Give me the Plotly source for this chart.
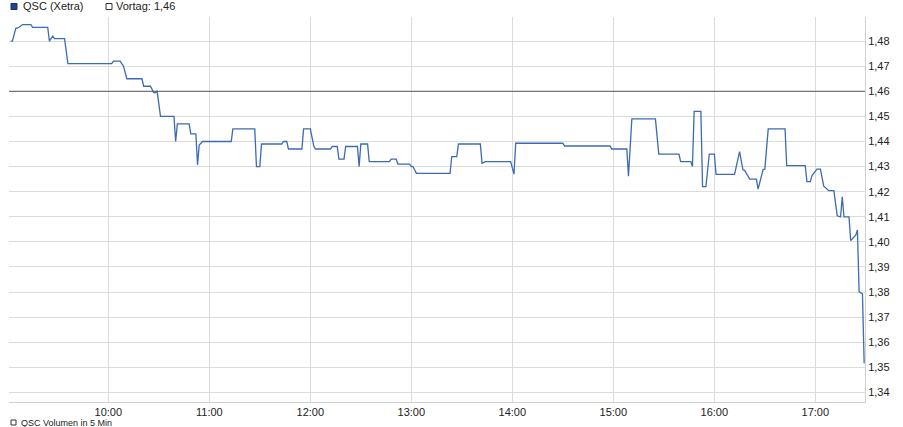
import plotly.graph_objects as go

DAY = "2012-01-02"

times = [
    "09:02", "09:03", "09:05", "09:07", "09:09", "09:14", "09:15", "09:24", "09:25", "09:27",
    "09:28", "09:34", "09:36", "10:02", "10:03", "10:07", "10:09", "10:11", "10:20", "10:21",
    "10:25", "10:27", "10:28", "10:29", "10:31", "10:39", "10:40", "10:41", "10:48", "10:49",
    "10:52", "10:53", "10:54", "10:56", "11:13", "11:14", "11:27", "11:28", "11:30", "11:31",
    "11:43", "11:44", "11:46", "11:47", "11:55", "11:56", "12:00", "12:02", "12:03", "12:12",
    "12:13", "12:16", "12:17", "12:20", "12:21", "12:28", "12:29", "12:30", "12:34", "12:35",
    "12:47", "12:48", "12:51", "12:52", "12:59", "13:00", "13:01", "13:03", "13:23", "13:24",
    "13:27", "13:28", "13:41", "13:42", "13:44", "13:59", "14:01", "14:02", "14:30", "14:31",
    "14:58", "14:59", "15:08", "15:09", "15:11", "15:25", "15:27", "15:39", "15:40", "15:46",
    "15:47", "15:48", "15:52", "15:53", "15:55", "15:57", "16:00", "16:01", "16:12", "16:13",
    "16:15", "16:17", "16:18", "16:21", "16:25", "16:26", "16:29", "16:30", "16:32", "16:42",
    "16:43", "16:54", "16:55", "16:57", "16:58", "17:01", "17:03", "17:05", "17:08", "17:11",
    "17:13", "17:15", "17:16", "17:17", "17:20", "17:21", "17:23", "17:24", "17:25", "17:26",
    "17:28", "17:29",
]

prices = [
    1.480, 1.480, 1.485, 1.4855, 1.4866, 1.4866, 1.4855, 1.4855, 1.480, 1.482,
    1.481, 1.481, 1.471, 1.471, 1.472, 1.472, 1.470, 1.465, 1.465, 1.462,
    1.462, 1.4595, 1.4595, 1.460, 1.450, 1.450, 1.440, 1.447, 1.447, 1.443,
    1.443, 1.4307, 1.4386, 1.440, 1.440, 1.445, 1.445, 1.430, 1.430, 1.439,
    1.439, 1.440, 1.440, 1.437, 1.437, 1.445, 1.445, 1.4383, 1.437, 1.437,
    1.438, 1.438, 1.433, 1.433, 1.438, 1.438, 1.430, 1.439, 1.439, 1.432,
    1.432, 1.433, 1.433, 1.431, 1.431, 1.430, 1.430, 1.4273, 1.4273, 1.434,
    1.434, 1.439, 1.439, 1.4313, 1.432, 1.432, 1.427, 1.4393, 1.4393, 1.4382,
    1.4382, 1.437, 1.437, 1.4262, 1.449, 1.449, 1.435, 1.435, 1.432, 1.432,
    1.430, 1.452, 1.452, 1.422, 1.422, 1.435, 1.435, 1.4269, 1.4269, 1.430,
    1.436, 1.4287, 1.4285, 1.425, 1.425, 1.421, 1.4289, 1.429, 1.445, 1.445,
    1.4304, 1.4304, 1.424, 1.424, 1.4264, 1.429, 1.429, 1.4222, 1.4204, 1.4204,
    1.4104, 1.410, 1.418, 1.410, 1.410, 1.4005, 1.4018, 1.4027, 1.4047, 1.3802,
    1.3792, 1.3516,
]

prev_close = 1.46
series_name = "QSC (Xetra)"
prev_label = "Vortag: 1,46"
volume_label = "QSC Volumen in 5 Min"
hour_ticks = ["10:00", "11:00", "12:00", "13:00", "14:00", "15:00", "16:00", "17:00"]

x = [f"{DAY} {t}" for t in times]

fig = go.Figure()
fig.add_trace(go.Scatter(
    x=x, y=prices, mode="lines", name=series_name,
    line=dict(color="#3c6bb3", width=1.3), showlegend=False,
))

fig.add_shape(type="line", xref="paper", yref="y", x0=0, x1=1,
              y0=prev_close, y1=prev_close,
              line=dict(color="#5a5a5a", width=1), layer="above")

FONT = "Liberation Sans, Arial, sans-serif"

def px_x(px):
    return (px - 9) / 856

def px_y(py):
    return (402 - py) / 385

# legend squares (top)
fig.add_shape(type="rect", xref="paper", yref="paper",
              x0=px_x(11), x1=px_x(17), y0=px_y(9.5), y1=px_y(3.5),
              fillcolor="#24468c", line=dict(color="#1a2f5e", width=1))
fig.add_annotation(text=series_name, xref="paper", yref="paper",
                   x=px_x(21), y=px_y(6.5),
                   xanchor="left", yanchor="middle", showarrow=False,
                   font=dict(family=FONT, size=11, color="#222"))
fig.add_shape(type="rect", xref="paper", yref="paper",
              x0=px_x(106), x1=px_x(112), y0=px_y(9.5), y1=px_y(3.5),
              fillcolor="white", line=dict(color="#333", width=1))
fig.add_annotation(text=prev_label, xref="paper", yref="paper",
                   x=px_x(114), y=px_y(6.5),
                   xanchor="left", yanchor="middle", showarrow=False,
                   font=dict(family=FONT, size=11, color="#222"))

# bottom legend
fig.add_shape(type="rect", xref="paper", yref="paper",
              x0=px_x(11), x1=px_x(16), y0=px_y(425), y1=px_y(420),
              fillcolor="white", line=dict(color="#333", width=1))
fig.add_annotation(text=volume_label, xref="paper", yref="paper",
                   x=px_x(19), y=px_y(422.5),
                   xanchor="left", yanchor="middle", showarrow=False,
                   font=dict(family=FONT, size=9, color="#222"))

fig.update_layout(
    width=903, height=427,
    margin=dict(l=9, r=38, t=17, b=25),
    paper_bgcolor="white", plot_bgcolor="white",
    separators=",.",
    font=dict(family=FONT, size=11, color="#222"),
    showlegend=False,
)
fig.update_xaxes(
    type="date",
    range=[f"{DAY} 09:01", f"{DAY} 17:29:30"],
    tickvals=[f"{DAY} {t}" for t in hour_ticks],
    ticktext=hour_ticks,
    showgrid=True, gridcolor="#dcdcdc", gridwidth=1,
    showline=True, linecolor="#d0d0d0", linewidth=1,
    ticks="", zeroline=False,
)
fig.update_yaxes(
    side="right",
    range=[1.3362, 1.4896],
    dtick=0.01, tick0=1.34, tickformat=".2f",
    showgrid=True, gridcolor="#dcdcdc", gridwidth=1,
    showline=True, linecolor="#d0d0d0", linewidth=1,
    ticks="", zeroline=False,
)

fig.write_html(
    "out.html",
    config={"displayModeBar": False},
    post_script="document.body.style.margin='0';document.body.style.overflow='hidden';",
)
